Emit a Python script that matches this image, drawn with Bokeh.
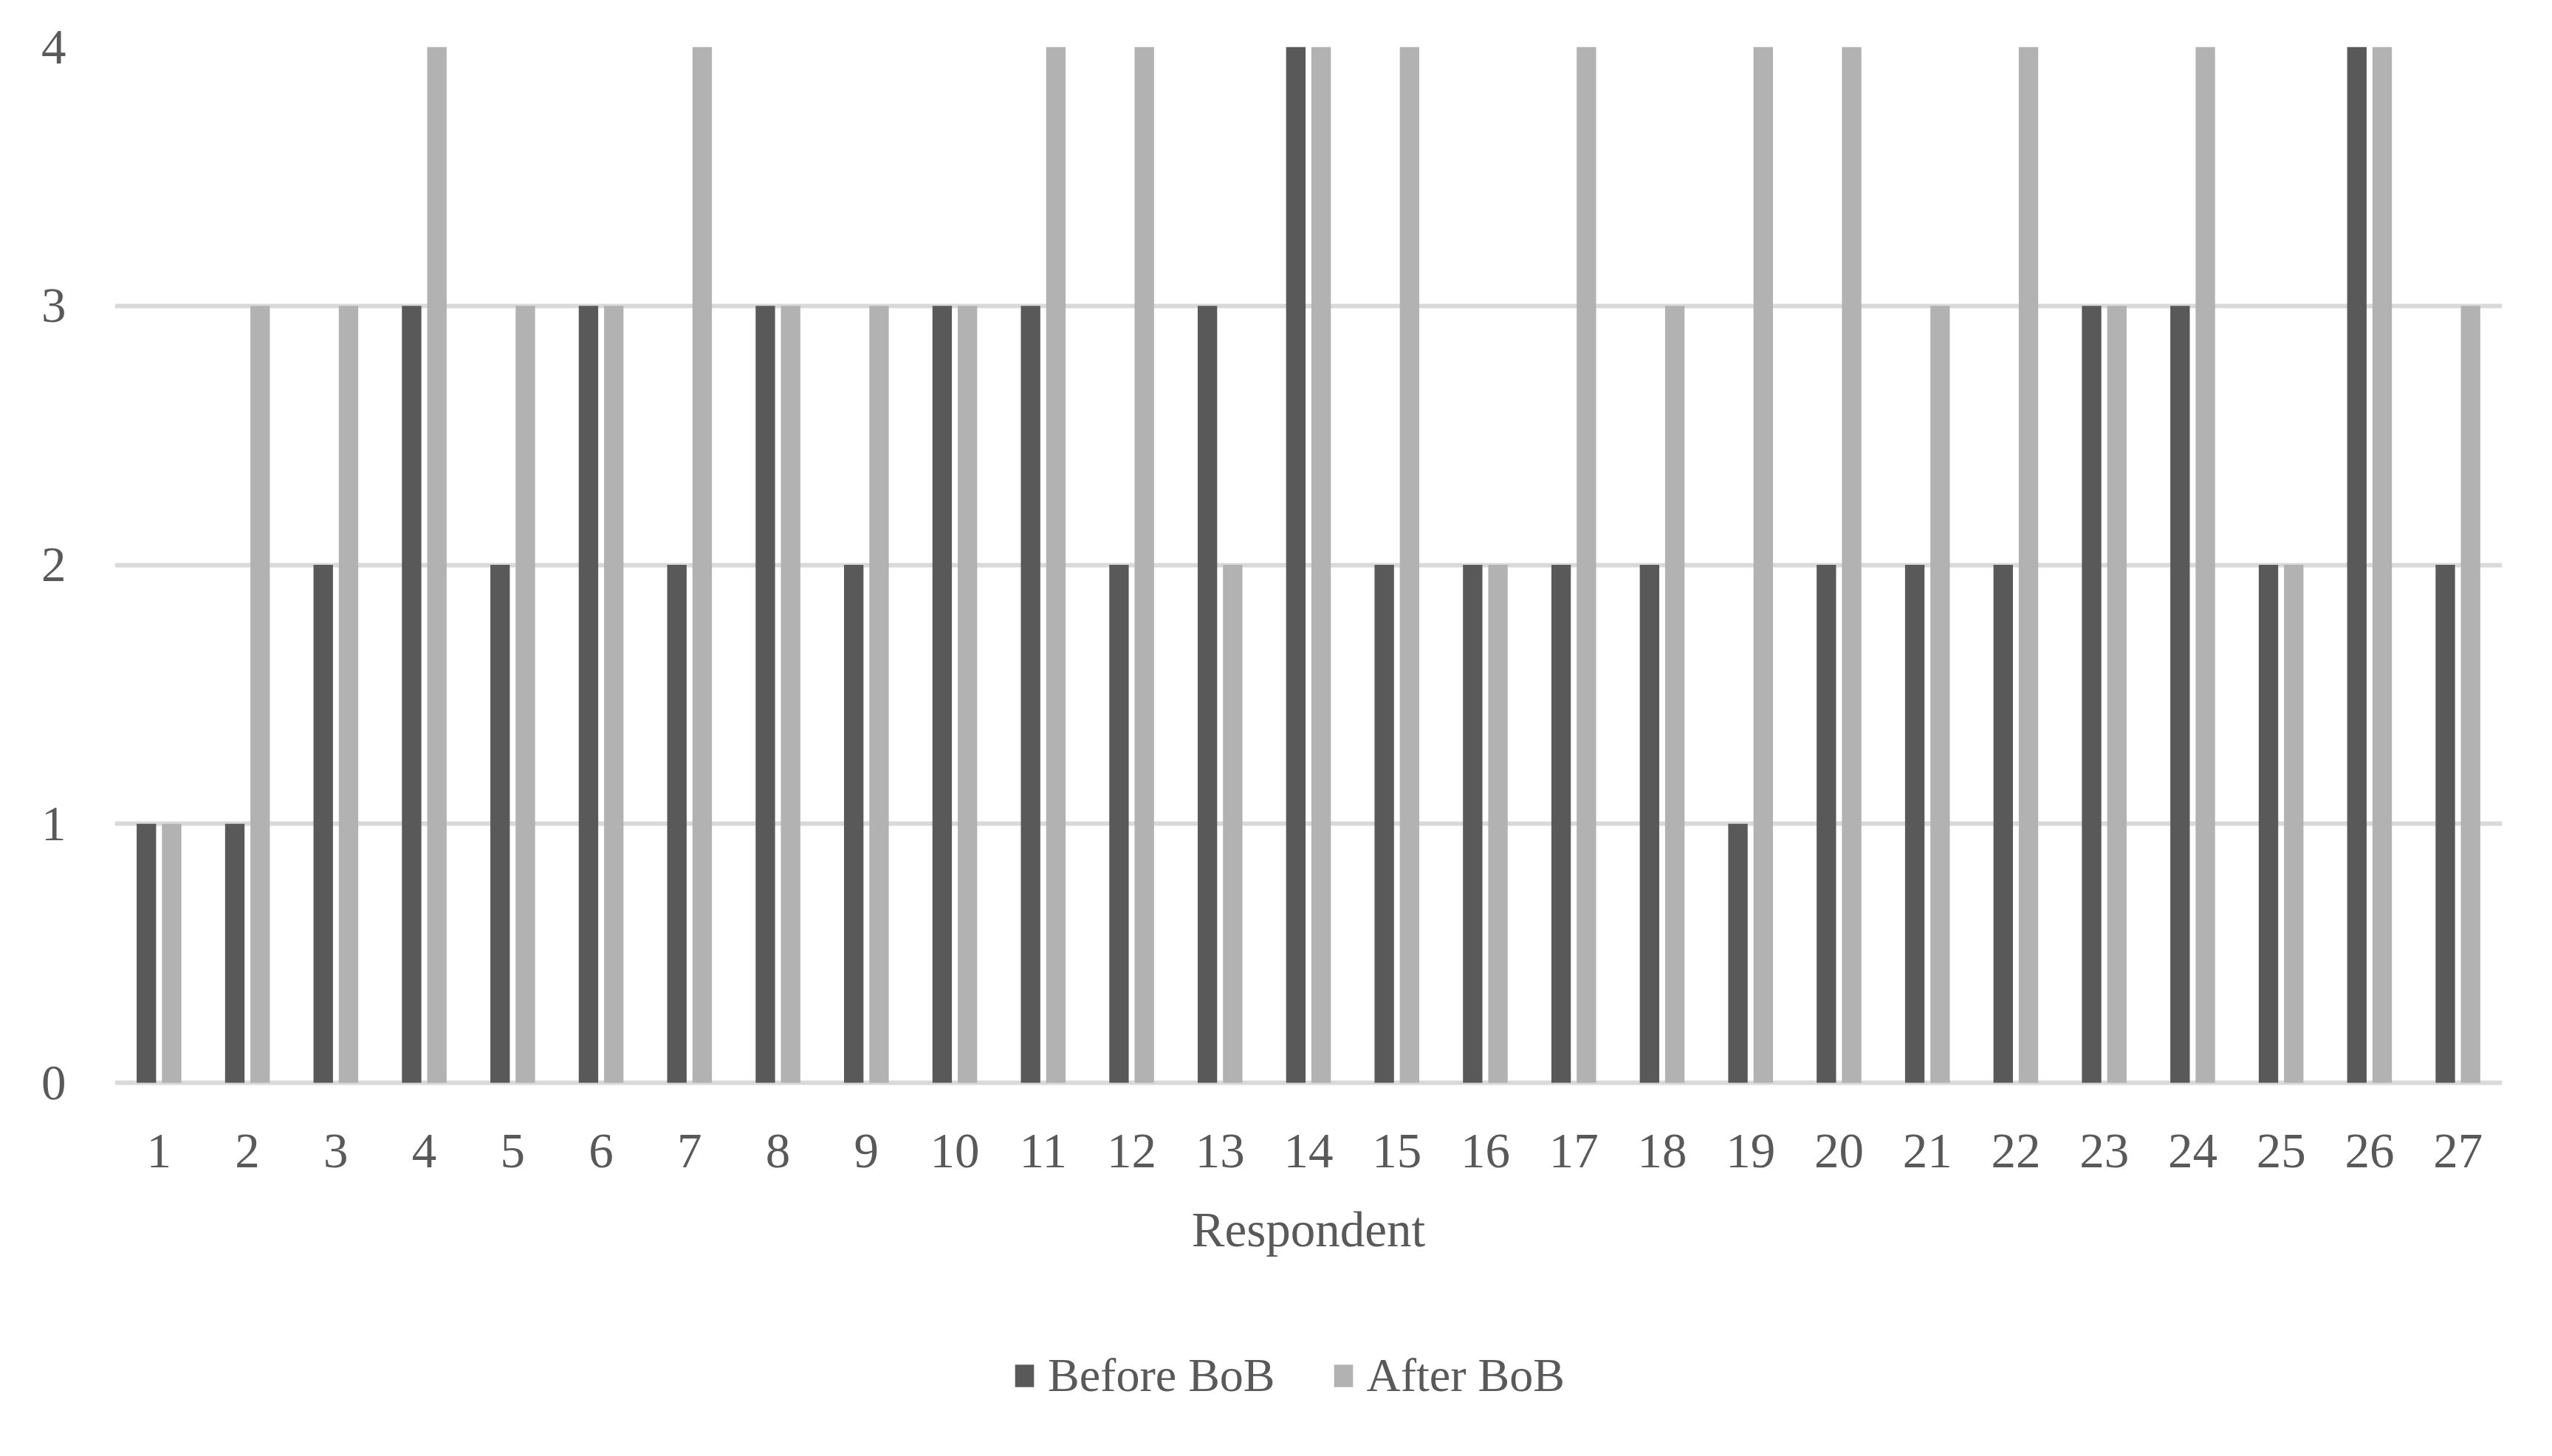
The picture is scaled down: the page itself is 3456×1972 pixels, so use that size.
from bokeh.plotting import figure
from bokeh.models import FactorRange, ColumnDataSource, Legend, LegendItem, FixedTicker, Label
from bokeh.core.properties import value
from bokeh.transform import dodge
from bokeh.embed import file_html
from bokeh.resources import INLINE

respondents = [str(i) for i in range(1, 28)]
before_bob = [1, 1, 2, 3, 2, 3, 2, 3, 2, 3, 3, 2, 3, 4, 2, 2, 2, 2, 1, 2, 2, 2, 3, 3, 2, 4, 2]
after_bob = [1, 3, 3, 4, 3, 3, 4, 3, 3, 3, 4, 4, 2, 4, 4, 2, 4, 3, 4, 4, 3, 4, 3, 4, 2, 4, 3]
y_ticks = [0, 1, 2, 3, 4]
x_title = "Respondent"

FONT = "Liberation Serif"
TXT = "#595959"
FS = "67px"

# frame: 0..4 spans 1403 px; extra space below 0 holds tick labels, title and legend
PX_PER_UNIT = 1403 / 4
FRAME_H = 1956 - 63
Y_MIN = -(FRAME_H - 1403) / PX_PER_UNIT

src = ColumnDataSource(dict(resp=respondents, before=before_bob, after=after_bob,
                            lab_y=[-92 / PX_PER_UNIT] * len(respondents)))

p = figure(
    x_range=FactorRange(*respondents, range_padding=0),
    y_range=(Y_MIN, 4),
    width=3440, height=1956,
    output_backend="svg", toolbar_location=None,
    x_axis_location=None,
    min_border_left=155, min_border_right=52, min_border_top=63, min_border_bottom=0,
    outline_line_color=None,
)
p.x_range.range_padding = 0

r1 = p.vbar(x=dodge("resp", -0.143, range=p.x_range), top="before", bottom=0, width=0.22,
            source=src, fill_color="#595959", line_color=None)
r2 = p.vbar(x=dodge("resp", 0.143, range=p.x_range), top="after", bottom=0, width=0.22,
            source=src, fill_color="#b2b2b2", line_color=None)

# category labels (x tick labels)
p.text(x="resp", y="lab_y", text="resp", source=src,
       text_font=value(FONT), text_font_size=value(FS), text_color=TXT,
       text_align="center", text_baseline="middle")

# axis title
p.add_layout(Label(x=len(respondents) / 2, y=-198 / PX_PER_UNIT, text=x_title,
                   text_font=FONT, text_font_size=FS, text_color=TXT,
                   text_align="center", text_baseline="middle"))

# grid
p.xgrid.grid_line_color = None
p.ygrid.grid_line_color = "#d9d9d9"
p.ygrid.grid_line_width = 6
p.yaxis.ticker = FixedTicker(ticks=y_ticks)

# y axis
p.yaxis.axis_line_color = None
p.yaxis.major_tick_line_color = None
p.yaxis.minor_tick_line_color = None
p.yaxis.major_label_text_font = FONT
p.yaxis.major_label_text_font_size = FS
p.yaxis.major_label_text_color = TXT
p.yaxis.major_label_standoff = 60

legend = Legend(
    items=[LegendItem(label="Before BoB", renderers=[r1]),
           LegendItem(label="After BoB", renderers=[r2])],
    orientation="horizontal",
    location=(1216, 56),
    label_text_font=FONT, label_text_font_size="64px", label_text_color=TXT,
    glyph_width=32, glyph_height=38, label_standoff=16, spacing=76,
    padding=0, margin=0, border_line_color=None, background_fill_alpha=0,
)
p.add_layout(legend, "center")

open("out.html", "w").write(file_html(p, INLINE))
